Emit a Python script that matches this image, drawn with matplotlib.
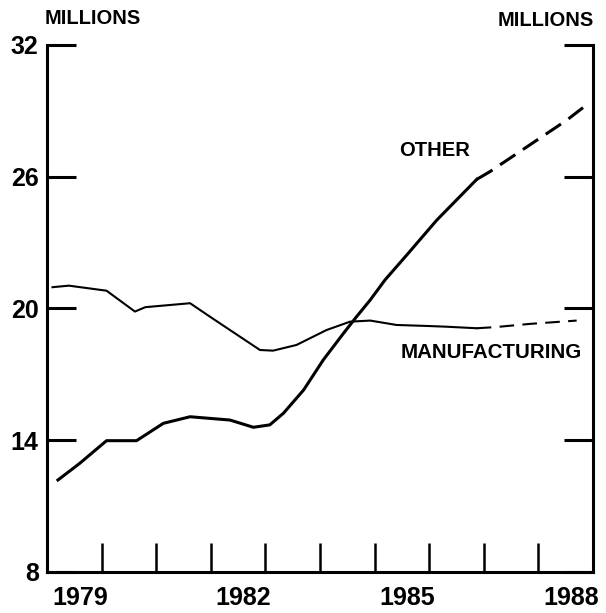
import matplotlib.pyplot as plt

# manufacturing vs other, millions
mfg_years = [1978.5, 1978.8, 1979.49, 1980.01, 1980.2, 1981.02, 1981.4, 1981.75, 1982.3,
             1982.54, 1982.97, 1983.52, 1983.95, 1984.32, 1984.8, 1985.41, 1985.72, 1986.27]
mfg_vals = [20.97, 21.04, 20.81, 19.86, 20.06, 20.24, 19.6, 19.02, 18.11,
            18.08, 18.34, 19.02, 19.40, 19.45, 19.25, 19.20, 19.17, 19.10]
mfg_proj_years = [1986.27, 1986.6, 1987.25, 1988.1]
mfg_proj_vals = [19.10, 19.15, 19.30, 19.45]

oth_years = [1978.6, 1979.0, 1979.49, 1980.04, 1980.53, 1981.02, 1981.75, 1982.18, 1982.48,
             1982.73, 1983.1, 1983.46, 1983.83, 1984.07, 1984.32, 1984.59, 1984.99,
             1985.54, 1986.27]
oth_vals = [12.19, 12.95, 13.98, 13.98, 14.77, 15.07, 14.92, 14.59, 14.70,
            15.23, 16.29, 17.66, 18.87, 19.63, 20.39, 21.3, 22.44,
            24.03, 25.88]
oth_proj_years = [1986.27, 1986.51, 1987.92, 1988.28]
oth_proj_vals = [25.88, 26.23, 28.58, 29.27]

year_labels = [1979, 1982, 1985, 1988]
year_ticks = [1979.4, 1980.4, 1981.4, 1982.4, 1983.4, 1984.4, 1985.4, 1986.4, 1987.4]
y_ticks = [8, 14, 20, 26, 32]

plt.rcParams['font.family'] = ['Liberation Sans', 'DejaVu Sans']
plt.rcParams['font.weight'] = 'bold'

fig = plt.figure(figsize=(6.06, 6.13), dpi=100)
ax = fig.add_axes([0.0776, 0.0669, 0.901, 0.8597])

ax.plot(mfg_years, mfg_vals, color='black', lw=1.5)
ax.plot(mfg_proj_years, mfg_proj_vals, color='black', lw=1.5, dashes=(7, 4))
ax.plot(oth_years, oth_vals, color='black', lw=2.2)
ax.plot(oth_proj_years, oth_proj_vals, color='black', lw=2.2, dashes=(6, 3))

ax.set_xlim(1978.4, 1988.4)
ax.set_ylim(8, 32)

ax.spines['top'].set_visible(False)
for s in ['left', 'right', 'bottom']:
    ax.spines[s].set_linewidth(2.2)

ax.set_xticks(year_labels)
ax.set_xticklabels([str(y) for y in year_labels], fontsize=18, fontweight='bold')
ax.tick_params(axis='x', which='major', length=0, pad=10)
ax.set_xticks(year_ticks, minor=True)
ax.tick_params(axis='x', which='minor', direction='in', length=21, width=1.8)

ax.set_yticks(y_ticks)
ax.set_yticklabels([str(y) for y in y_ticks], fontsize=18, fontweight='bold')
ax.tick_params(axis='y', which='major', direction='in', length=21, width=2.2,
               left=True, right=True, pad=6)

fig.text(0.153, 0.970, 'MILLIONS', fontsize=14.5, fontweight='bold', ha='center', va='center')
fig.text(0.900, 0.967, 'MILLIONS', fontsize=14.5, fontweight='bold', ha='center', va='center')
ax.text(1985.5, 27.2, 'OTHER', fontsize=14.5, fontweight='bold', ha='center', va='center')
ax.text(1986.53, 18.0, 'MANUFACTURING', fontsize=14.8, fontweight='bold', ha='center', va='center')

fig.savefig('out.png', dpi=100)
